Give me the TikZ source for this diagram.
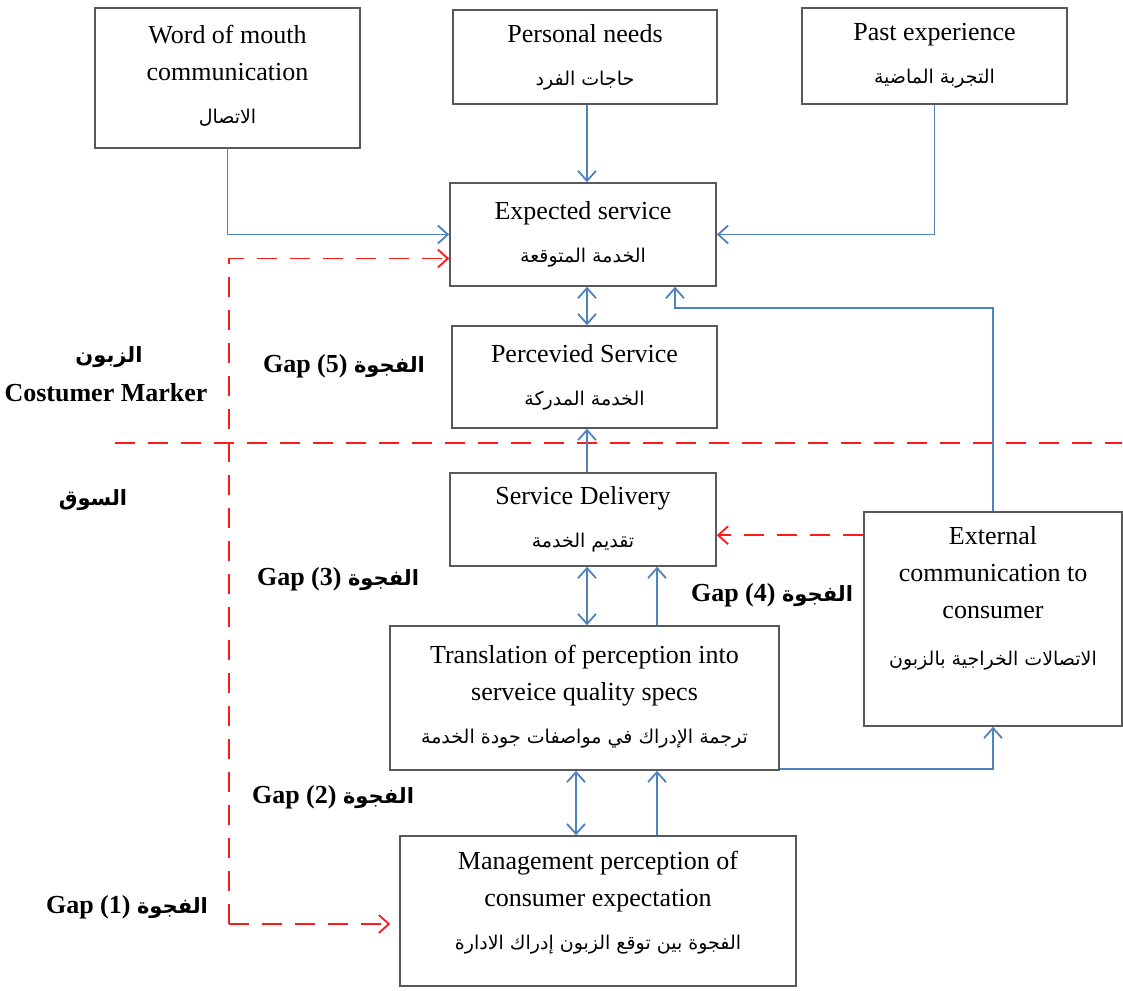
\documentclass[tikz,border=0pt]{standalone}
\usepackage{fontspec}
\setmainfont{Liberation Serif}
\newfontfamily\arabicfont[Script=Arabic]{DejaVu Sans}
\TeXXeTstate=1
\usetikzlibrary{arrows.meta}
\definecolor{linkblue}{HTML}{4F81BD}
\definecolor{gapred}{HTML}{FF1A1A}
\newcommand{\artext}[1]{{\arabicfont\fontsize{9.5}{18.5}\selectfont\beginR #1\endR}}
\newcommand{\arlabel}[1]{{\arabicfont\fontsize{10.5}{16}\selectfont\beginR #1\endR}}
\newcommand{\arside}[1]{{\arabicfont\fontsize{10.5}{16}\selectfont\beginR #1\endR}}

\begin{document}
\begin{tikzpicture}[x=0.5pt,y=-0.5pt,
        box/.style={draw=black!65,line width=0.8pt,align=center,inner sep=0pt,
            font=\fontsize{13}{18.5}\selectfont},
        link/.style={draw=linkblue,line width=0.9pt,-{Straight Barb[length=5pt,width=9pt]}},
        both/.style={link,{Straight Barb[length=5pt,width=9pt]}-{Straight Barb[length=5pt,width=9pt]}},
        gapline/.style={draw=gapred,line width=0.9pt,dash pattern=on 10pt off 6.5pt},
        gaplabel/.style={font=\bfseries\fontsize{13}{16}\selectfont,inner sep=0pt}]
        \useasboundingbox (0,0) rectangle (1123,990);

        % top row
        \node[box,minimum width=132.5pt,minimum height=70pt] (wom) at (227.5,78)
            {Word of mouth\\communication\\[3pt]\artext{الاتصال}\\[-15pt]\mbox{}};
        \node[box,minimum width=132pt,minimum height=47pt] (needs) at (585,57)
            {Personal needs\\[3pt]\artext{حاجات الفرد}};
        \node[box,minimum width=132.5pt,minimum height=48pt] (past) at (934.5,56)
            {Past experience\\[3pt]\artext{التجربة الماضية}};

        % middle column
        \node[box,minimum width=133pt,minimum height=51.5pt] (expected) at (583,234.5)
            {Expected service\\[3pt]\artext{الخدمة المتوقعة}};
        \node[box,minimum width=132.5pt,minimum height=51pt] (perceived) at (584.5,377)
            {Percevied Service\\[3pt]\artext{الخدمة المدركة}};
        \node[box,minimum width=133pt,minimum height=46.5pt] (delivery) at (583,519.5)
            {Service Delivery\\[3pt]\artext{تقديم الخدمة}};
        \node[box,minimum width=129pt,minimum height=107pt] (external) at (993,619)
            {External\\communication to\\consumer\\[5pt]\artext{الاتصالات الخراجية بالزبون}\\[4.5pt]\mbox{}};
        \node[box,minimum width=194.5pt,minimum height=72pt] (translation) at (584.5,698)
            {Translation of perception into\\serveice quality specs\\[3pt]\artext{ترجمة الإدراك في مواصفات جودة الخدمة}\\[-14.5pt]\mbox{}};
        \node[box,minimum width=198pt,minimum height=75pt] (management) at (598,911)
            {Management perception of\\consumer expectation\\[3pt]\artext{الفجوة بين توقع الزبون إدراك الادارة}\\[-8pt]\mbox{}};

        % side labels
        \node[gaplabel] (customerar) at (109,357) {\arside{الزبون}};
        \node[gaplabel] (customer) at (106,393) {Costumer Marker};
        \node[gaplabel] (market) at (93,500) {\arside{السوق}};
        \node[gaplabel] (gap5) at (344,366) {Gap\ (5) \arlabel{الفجوة}};
        \node[gaplabel] (gap3) at (338,579) {Gap (3) \arlabel{الفجوة}};
        \node[gaplabel] (gap4) at (772,595) {Gap\ (4) \arlabel{الفجوة}};
        \node[gaplabel] (gap2) at (333,797) {Gap (2) \arlabel{الفجوة}};
        \node[gaplabel] (gap1) at (127,907) {Gap\ (1) \arlabel{الفجوة}};

        % inputs to expected service
        \draw[link] (wom.south) |- (expected.west);
        \draw[link] ([xshift=1pt]needs.south) -- ([xshift=1pt]needs.south |- expected.north);
        \draw[link] (past.south) |- (expected.east);

        % gap lines
        \coordinate (divl) at (115,443);
        \coordinate (divr) at (1122,443);
        \draw[gapline] (divl) -- (divr);
        \coordinate (gapcorner) at (229,924);
        \draw[gapline,-{Straight Barb[length=5pt,width=9pt]}] (gapcorner) |- ([yshift=-12pt]expected.west);
        \draw[gapline,-{Straight Barb[length=5pt,width=9pt]},shorten >=4.5pt] (gapcorner) -- (gapcorner -| management.west);
        \draw[gapline,-{Straight Barb[length=5pt,width=9pt]}] ([yshift=-12pt]external.north west) coordinate (ext1) -- (ext1 -| delivery.east);

        % blue links
        \draw[both] ([xshift=2pt]expected.south) -- ([xshift=2pt]expected.south |- perceived.north);
        \draw[link] ([xshift=2pt]delivery.north) -- ([xshift=2pt]delivery.north |- perceived.south);
        \coordinate (feed) at (675,308);
        \draw[link] (external.north) |- (feed) -- (feed |- expected.south);
        \draw[both] ([xshift=2pt]delivery.south) -- ([xshift=2pt]delivery.south |- translation.north);
        \draw[link] ([xshift=37pt]delivery.south |- translation.north) -- ([xshift=37pt]delivery.south);
        \draw[both] ([xshift=-11pt]management.north |- translation.south) -- ([xshift=-11pt]management.north);
        \draw[link] ([xshift=29.5pt]management.north) -- ([xshift=29.5pt]management.north |- translation.south);
        \draw[link] ([yshift=1pt]translation.south east) -| (external.south);
\end{tikzpicture}
\end{document}
